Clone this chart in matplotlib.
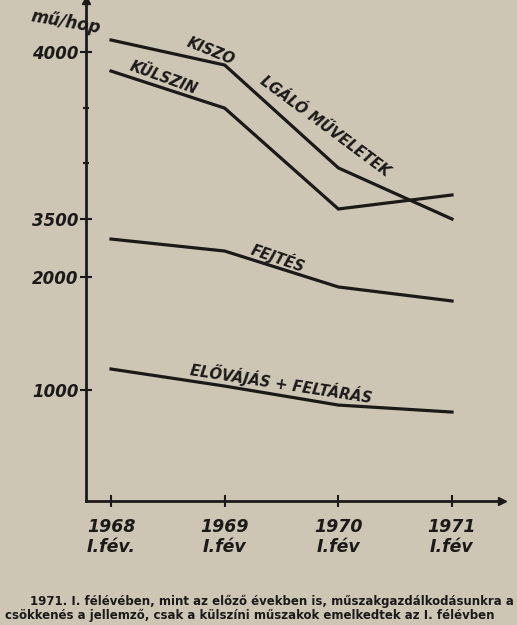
import numpy as np
import matplotlib
matplotlib.use('Agg')
import matplotlib.pyplot as plt

# adatok (leolvasva az ábráról)
evek = [1968, 1969, 1970, 1971]
ev_cimkek = ['1968\nI.fév.', '1969\nI.fév', '1970\nI.fév', '1971\nI.fév']
kiszolgalo = [4036, 3961, 3653, 3491]
kulszini = [3943, 3832, 3530, 3572]
fejtes = [2336, 2230, 1912, 1788]
elovajas = [1186, 1035, 867, 805]
y_cimkek = [1000, 2000, 3500, 4000]
y_kis = [3667, 3833]

# megszakított y tengely: két lineáris szakasz
V = [0, 2000, 2500, 3500, 4000, 4300]
W = [-503, -277, -220.5, -219, -52, 48]

def fwd(v):
    return np.interp(v, V, W)

def inv(w):
    return np.interp(w, W, V)

papir = '#cdc6b5'
tinta = '#1c1a18'
kezi = dict(style='italic', weight='bold', color=tinta, family='DejaVu Sans')

fig = plt.figure(figsize=(5.17, 6.25), dpi=100, facecolor=papir)
ax = fig.add_axes([86/517, 1 - 501/625, 416/517, 501/625])
ax.set_facecolor('none')
ax.set_yscale('function', functions=(fwd, inv))
ax.set_xlim(1967.78, 1971.44)
ax.set_ylim(18, 4156)

for s in [kiszolgalo, kulszini, fejtes, elovajas]:
    ax.plot(evek, s, color=tinta, lw=2.3, solid_joinstyle='miter')

for sp in ['top', 'right']:
    ax.spines[sp].set_visible(False)
for sp in ['left', 'bottom']:
    ax.spines[sp].set_linewidth(2)
    ax.spines[sp].set_color(tinta)

ax.set_yticks(y_cimkek)
ax.set_yticklabels([str(v) for v in y_cimkek], fontsize=12, **kezi)
ax.set_yticks(y_kis, minor=True)
ax.tick_params(axis='y', which='major', direction='inout', length=9, width=1.5, pad=1, colors=tinta)
ax.tick_params(axis='y', which='minor', direction='inout', length=5, width=1.5, colors=tinta)
ax.set_xticks(evek)
ax.set_xticklabels(ev_cimkek, fontsize=12.5, linespacing=1.15, **kezi)
ax.tick_params(axis='x', direction='inout', length=9, width=1.5, pad=8, colors=tinta)

# nyilak a tengelyek végén
ax.plot([0], [1], marker='^', ms=6, color=tinta, transform=ax.transAxes, clip_on=False)
ax.plot([1], [0], marker='>', ms=6, color=tinta, transform=ax.transAxes, clip_on=False)

fig.text(66/517, 1 - 22/625, 'mű/hop', fontsize=12, ha='center', va='center', rotation=-10, **kezi)

# feliratok a vonalak mentén
fel = dict(ha='center', va='center', rotation_mode='anchor', fontsize=10.5, **kezi)
ax.text(1968.88, 4003, 'KISZO', rotation=-22, **fel)
ax.text(1969.88, 3777, 'LGÁLÓ MŰVELETEK', rotation=-36.6, **fel)
ax.text(1968.46, 3922, 'KÜLSZIN', rotation=-20, **fel)
ax.text(1969.47, 2168, 'FEJTÉS', rotation=-19, **fel)
ax.text(1969.50, 1062, 'ELŐVÁJÁS + FELTÁRÁS', rotation=-8.8, **fel)

# képaláírás
fig.text(30/517, 1 - 601/625, '1971. I. félévében, mint az előző években is, műszakgazdálkodásunkra a',
         fontsize=8.5, weight='bold', color=tinta, va='center')
fig.text(5/517, 1 - 615/625, 'csökkenés a jellemző, csak a külszíni műszakok emelkedtek az I. félévben',
         fontsize=8.5, weight='bold', color=tinta, va='center')

fig.savefig('out.png', dpi=100, facecolor=papir)
